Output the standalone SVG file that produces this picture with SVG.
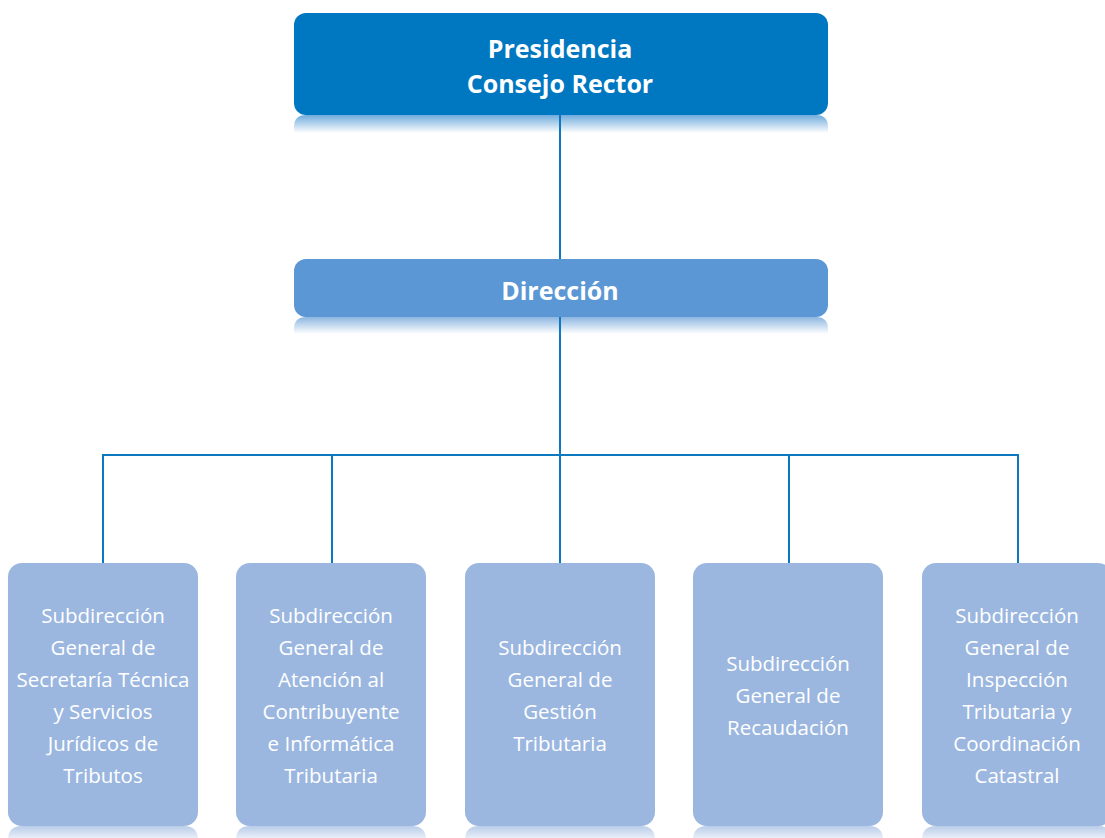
<svg xmlns="http://www.w3.org/2000/svg" width="1105" height="838" viewBox="0 0 1105 838">
  <style>
    .t1 { font-family: "Open Sans", "Liberation Sans", sans-serif; font-weight: bold; font-size: 25px; fill: #ffffff; text-anchor: middle; }
    .t3 { font-family: "Open Sans", "Liberation Sans", sans-serif; font-size: 20.5px; fill: #ffffff; text-anchor: middle; }
    .top { fill: #0077C1; }
    .mid { fill: #5B97D4; }
    .sub { fill: #9BB7E0; }
    .conn { stroke: #0B78BF; stroke-width: 2; fill: none; }
  </style>
  <defs>
    <linearGradient id="gTop" x1="0" y1="0" x2="0" y2="1">
      <stop offset="0" stop-color="#3F8FD0" stop-opacity="0.75"/>
      <stop offset="1" stop-color="#3F8FD0" stop-opacity="0"/>
    </linearGradient>
    <linearGradient id="gMid" x1="0" y1="0" x2="0" y2="1">
      <stop offset="0" stop-color="#5B97D4" stop-opacity="0.7"/>
      <stop offset="1" stop-color="#5B97D4" stop-opacity="0"/>
    </linearGradient>
    <linearGradient id="gSub" x1="0" y1="0" x2="0" y2="1">
      <stop offset="0" stop-color="#9BB7E0" stop-opacity="0.7"/>
      <stop offset="1" stop-color="#9BB7E0" stop-opacity="0"/>
    </linearGradient>
  </defs>

  <!-- reflections -->
  <g id="reflections">
    <path d="M306,115 H816 Q828,115 828,127 V133 H294 V127 Q294,115 306,115 Z" fill="url(#gTop)"/>
    <path d="M306,317 H816 Q828,317 828,329 V334 H294 V329 Q294,317 306,317 Z" fill="url(#gMid)"/>
    <path d="M22,826 H184 Q198,826 198,840 V844 H8 V840 Q8,826 22,826 Z" fill="url(#gSub)"/>
    <path d="M250,826 H412 Q426,826 426,840 V844 H236 V840 Q236,826 250,826 Z" fill="url(#gSub)"/>
    <path d="M479,826 H641 Q655,826 655,840 V844 H465 V840 Q465,826 479,826 Z" fill="url(#gSub)"/>
    <path d="M707,826 H869 Q883,826 883,840 V844 H693 V840 Q693,826 707,826 Z" fill="url(#gSub)"/>
    <path d="M936,826 H1098 Q1112,826 1112,840 V844 H922 V840 Q922,826 936,826 Z" fill="url(#gSub)"/>
  </g>

  <g id="connectors">
    <line class="conn" x1="560" y1="115" x2="560" y2="259"/>
    <line class="conn" x1="560" y1="317" x2="560" y2="455"/>
    <line class="conn" x1="102" y1="455" x2="1019" y2="455" stroke-width="2.5"/>
    <line class="conn" x1="103" y1="455" x2="103" y2="563"/>
    <line class="conn" x1="332" y1="455" x2="332" y2="563"/>
    <line class="conn" x1="560" y1="455" x2="560" y2="563"/>
    <line class="conn" x1="789" y1="455" x2="789" y2="563"/>
    <line class="conn" x1="1018" y1="455" x2="1018" y2="563"/>
  </g>

  <g id="presidencia">
    <rect class="top" x="294" y="13" width="534" height="102" rx="12"/>
    <text class="t1" x="560" y="58">Presidencia</text>
    <text class="t1" x="560" y="93">Consejo Rector</text>
  </g>

  <g id="direccion">
    <rect class="mid" x="294" y="259" width="534" height="58" rx="12"/>
    <text class="t1" x="560" y="300">Dirección</text>
  </g>

  <g id="sg-secretaria">
    <rect class="sub" x="8" y="563" width="190" height="263" rx="14"/>
    <text class="t3" x="103" y="623">Subdirección</text>
    <text class="t3" x="103" y="655">General de</text>
    <text class="t3" x="103" y="687">Secretaría Técnica</text>
    <text class="t3" x="103" y="719">y Servicios</text>
    <text class="t3" x="103" y="751">Jurídicos de</text>
    <text class="t3" x="103" y="783">Tributos</text>
  </g>

  <g id="sg-atencion">
    <rect class="sub" x="236" y="563" width="190" height="263" rx="14"/>
    <text class="t3" x="331" y="623">Subdirección</text>
    <text class="t3" x="331" y="655">General de</text>
    <text class="t3" x="331" y="687">Atención al</text>
    <text class="t3" x="331" y="719">Contribuyente</text>
    <text class="t3" x="331" y="751">e Informática</text>
    <text class="t3" x="331" y="783">Tributaria</text>
  </g>

  <g id="sg-gestion">
    <rect class="sub" x="465" y="563" width="190" height="263" rx="14"/>
    <text class="t3" x="560" y="655">Subdirección</text>
    <text class="t3" x="560" y="687">General de</text>
    <text class="t3" x="560" y="719">Gestión</text>
    <text class="t3" x="560" y="751">Tributaria</text>
  </g>

  <g id="sg-recaudacion">
    <rect class="sub" x="693" y="563" width="190" height="263" rx="14"/>
    <text class="t3" x="788" y="671">Subdirección</text>
    <text class="t3" x="788" y="703">General de</text>
    <text class="t3" x="788" y="735">Recaudación</text>
  </g>

  <g id="sg-inspeccion">
    <rect class="sub" x="922" y="563" width="190" height="263" rx="14"/>
    <text class="t3" x="1017" y="623">Subdirección</text>
    <text class="t3" x="1017" y="655">General de</text>
    <text class="t3" x="1017" y="687">Inspección</text>
    <text class="t3" x="1017" y="719">Tributaria y</text>
    <text class="t3" x="1017" y="751">Coordinación</text>
    <text class="t3" x="1017" y="783">Catastral</text>
  </g>
</svg>
